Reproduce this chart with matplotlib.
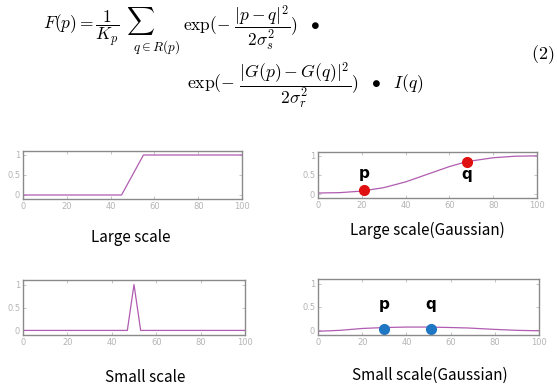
import numpy as np
import matplotlib.pyplot as plt

# data
x_step = [0, 45, 55, 100]
y_step = [0, 0, 1, 1]

x_gauss = [0, 10, 20, 30, 40, 50, 60, 68, 80, 90, 100]
y_gauss_large = [0.03, 0.04, 0.08, 0.17, 0.32, 0.52, 0.72, 0.85, 0.95, 0.99, 1.0]

x_spike = [0, 47, 50, 53, 100]
y_spike = [0, 0, 1, 0, 0]

y_gauss_small = [-0.02, 0.0, 0.04, 0.06, 0.07, 0.07, 0.06, 0.05, 0.02, 0.0, -0.01]

pts_large_x = [21, 68]
pts_large_y = [0.12, 0.85]
pts_small_x = [30, 51]
pts_small_y = [0.03, 0.03]

titles = ["Large scale", "Large scale(Gaussian)", "Small scale", "Small scale(Gaussian)"]

W, H = 557, 387
fig = plt.figure(figsize=(W / 100, H / 100), dpi=100)
plt.rcParams['mathtext.fontset'] = 'cm'

def box(l, t, r, b):
    return [l / W, 1 - b / H, (r - l) / W, (b - t) / H]

def ftext(x, y, s, **kw):
    # place text by pixel position (from top-left)
    return fig.text(x / W, 1 - y / H, s, **kw)

line_c = "#b05cb0"
txt_c = "#b4b4b4"

def style(ax):
    ax.set_xlim(0, 100)
    ax.set_ylim(-0.1, 1.1)
    ax.set_xticks([0, 20, 40, 60, 80, 100])
    ax.set_yticks([0, 0.5, 1])
    ax.set_yticklabels(["0", "0.5", "1"])
    ax.tick_params(direction="in", length=2, width=0.6, colors="#bbbbbb",
                   labelsize=6, labelcolor=txt_c, top=True, right=True, pad=2)
    for s in ax.spines.values():
        s.set_color("#8a8a8a")
        s.set_linewidth(1.0)

# a. top left
ax1 = fig.add_axes(box(23, 151, 242, 199))
ax1.plot(x_step, y_step, color=line_c, lw=0.9)
style(ax1)

# b. top right
ax2 = fig.add_axes(box(318, 152, 537, 198))
ax2.plot(x_gauss, y_gauss_large, color=line_c, lw=0.9)
ax2.plot(pts_large_x, pts_large_y, "o", color="#e01010", ms=7)
ax2.text(pts_large_x[0], 0.55, "p", fontsize=11, fontweight="bold", ha="center", va="center")
ax2.text(pts_large_x[1], 0.5, "q", fontsize=11, fontweight="bold", ha="center", va="center")
style(ax2)

# c. bottom left
ax3 = fig.add_axes(box(23, 280, 245, 335))
ax3.plot(x_spike, y_spike, color=line_c, lw=0.9)
style(ax3)

# d. bottom right
ax4 = fig.add_axes(box(318, 279, 539, 335))
ax4.plot(x_gauss, y_gauss_small, color=line_c, lw=0.9)
ax4.plot(pts_small_x, pts_small_y, "o", color="#1f77c4", ms=7)
ax4.text(pts_small_x[0], 0.55, "p", fontsize=11, fontweight="bold", ha="center", va="center")
ax4.text(pts_small_x[1], 0.55, "q", fontsize=11, fontweight="bold", ha="center", va="center")
style(ax4)

# e. titles under each plot
for (cx, cy), t in zip([(131, 237), (427, 230), (145, 377), (430, 375)], titles):
    ftext(cx, cy, t, fontsize=11, ha="center", va="center",
          family=["Noto Sans CJK KR", "DejaVu Sans"])

# f. equation, built from pieces so the sum stays large
ftext(43, 28, r"$F(p) = \dfrac{1}{K_p}$", fontsize=12.5, ha="left", va="center")
ftext(126, 21, r"$\sum$", fontsize=14, ha="left", va="center")
ftext(133, 47, r"$q\in R(p)$", fontsize=9.5, ha="left", va="center")
ftext(183, 28, r"$\mathrm{exp}(-\ \dfrac{|p-q|^2}{2\sigma_s^2})\ \ \bullet$",
      fontsize=12.5, ha="left", va="center")
ftext(187, 86, r"$\mathrm{exp}(-\ \dfrac{|G(p)-G(q)|^2}{2\sigma_r^2})\ \ \bullet\ \ I(q)$",
      fontsize=12.7, ha="left", va="center")
ftext(554, 55, r"$(2)$", fontsize=13, ha="right", va="center")

fig.savefig("out.png", dpi=100)
